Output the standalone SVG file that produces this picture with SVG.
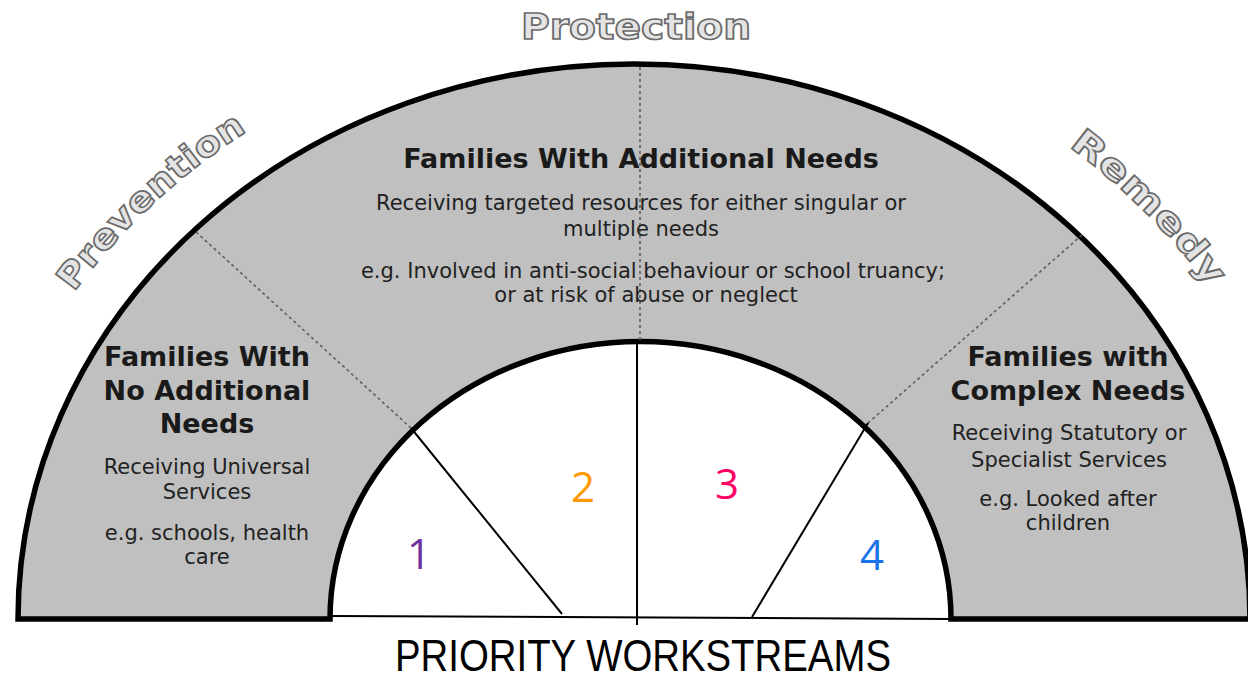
<svg xmlns="http://www.w3.org/2000/svg" width="1248" height="682" viewBox="0 0 1248 682">
<style>
.ttl{font-family:"DejaVu Sans",Verdana,sans-serif;font-weight:bold;font-size:27px;fill:#1a1a1a;text-anchor:middle}
.sub{font-family:"DejaVu Sans",Verdana,sans-serif;font-size:21px;fill:#222;text-anchor:middle}
.arc{font-family:"DejaVu Sans",sans-serif;font-weight:bold;font-size:35px;fill:#e4e4e4;stroke:#6a6a6a;stroke-width:1.6}
.num{font-family:"Open Sans","Liberation Sans",sans-serif;font-size:42px;text-anchor:middle}
.thin{stroke:#000;stroke-width:2;fill:none}
.dot{stroke:#5e5e5e;stroke-width:1.6;stroke-dasharray:3 3;fill:none}
</style>
<defs>
<path id="pPrev" d="M -35 620 A 669 599 0 0 1 1303 620"/>
<path id="pRem" d="M -51 620 A 685 613 0 0 1 1319 620"/>
</defs>
<rect width="1248" height="682" fill="#fff"/>
<g id="band">
<path d="M 18 619 A 616 555 0 0 1 1250 619 L 951 619 A 310 277 0 0 0 330 619 Z" fill="#c0c0c0" stroke="#000" stroke-width="5.5" stroke-linejoin="miter"/>
</g>
<g id="connectors">
<line class="dot" x1="196" y1="232" x2="411" y2="428"/>
<line class="dot" x1="640" y1="67" x2="640" y2="342"/>
<line class="dot" x1="1082" y1="235" x2="868" y2="423"/>
<line class="thin" x1="332" y1="616" x2="951" y2="619"/>
<line class="thin" x1="637" y1="344" x2="637" y2="625"/>
<line class="thin" x1="411" y1="428" x2="562" y2="614"/>
<line class="thin" x1="868" y1="423" x2="752" y2="617"/>
</g>
<g id="protection"><text class="arc" x="636" y="39" text-anchor="middle" textLength="230" lengthAdjust="spacingAndGlyphs">Protection</text></g>
<g id="prevention"><text class="arc"><textPath href="#pPrev" startOffset="470" text-anchor="middle" textLength="238" lengthAdjust="spacingAndGlyphs">Prevention</textPath></text></g>
<g id="remedy"><text class="arc"><textPath href="#pRem" startOffset="1584" text-anchor="middle" textLength="200" lengthAdjust="spacingAndGlyphs">Remedy</textPath></text></g>
<g id="node-additional">
<text class="ttl" x="641" y="168">Families With Additional Needs</text>
<text class="sub" x="641" y="210">Receiving targeted resources for either singular or</text>
<text class="sub" x="641" y="236">multiple needs</text>
<text class="sub" x="653" y="278">e.g. Involved in anti-social behaviour or school truancy;</text>
<text class="sub" x="646" y="302">or at risk of abuse or neglect</text>
</g>
<g id="node-none">
<text class="ttl" x="207" y="366">Families With</text>
<text class="ttl" x="207" y="400">No Additional</text>
<text class="ttl" x="207" y="433">Needs</text>
<text class="sub" x="207" y="474">Receiving Universal</text>
<text class="sub" x="207" y="499">Services</text>
<text class="sub" x="207" y="540">e.g. schools, health</text>
<text class="sub" x="207" y="564">care</text>
</g>
<g id="node-complex">
<text class="ttl" x="1068" y="366">Families with</text>
<text class="ttl" x="1068" y="400">Complex Needs</text>
<text class="sub" x="1069" y="440">Receiving Statutory or</text>
<text class="sub" x="1069" y="467">Specialist Services</text>
<text class="sub" x="1068" y="506">e.g. Looked after</text>
<text class="sub" x="1068" y="530">children</text>
</g>
<g id="numbers">
<text class="num" x="419" y="569" fill="#7030a0">1</text>
<text class="num" x="583" y="502" fill="#ff9900">2</text>
<text class="num" x="727" y="499" fill="#ff0066">3</text>
<text class="num" x="872" y="570" fill="#1a73e8">4</text>
</g>
<g id="caption"><text x="643" y="671" font-family="Liberation Sans,Arial,sans-serif" font-size="44" text-anchor="middle" textLength="496" lengthAdjust="spacingAndGlyphs">PRIORITY WORKSTREAMS</text></g>
</svg>
